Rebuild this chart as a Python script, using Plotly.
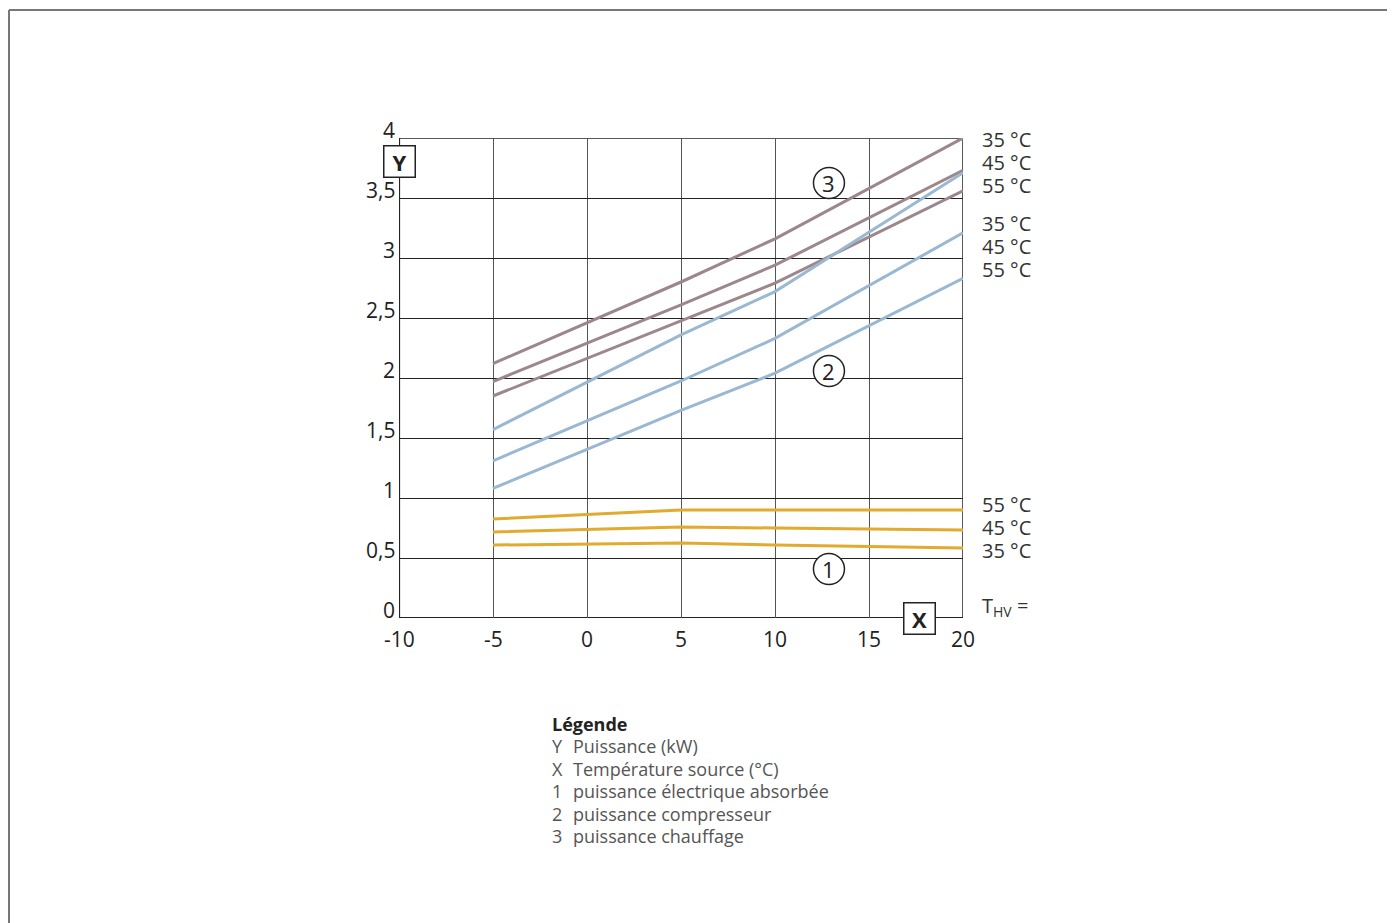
import plotly.graph_objects as go

# ---- data ----
x_src = [-5, 5, 10, 20]
heat_35 = [2.12, 2.80, 3.16, 4.00]
heat_45 = [1.97, 2.61, 2.94, 3.73]
heat_55 = [1.85, 2.48, 2.79, 3.56]
comp_35 = [1.57, 2.36, 2.72, 3.71]
comp_45 = [1.31, 1.975, 2.33, 3.21]
comp_55 = [1.08, 1.73, 2.04, 2.83]
elec_55 = [0.825, 0.90, 0.90, 0.90]
elec_45 = [0.717, 0.758, 0.75, 0.733]
elec_35 = [0.608, 0.625, 0.608, 0.583]

x_ticks = [-10, -5, 0, 5, 10, 15, 20]
x_tick_labels = ["-10", "-5", "0", "5", "10", "15", "20"]
y_ticks = [0, 0.5, 1, 1.5, 2, 2.5, 3, 3.5, 4]
y_tick_labels = ["0", "0,5", "1", "1,5", "2", "2,5", "3", "3,5", "4"]

right_labels = ["35 °C", "45 °C", "55 °C", "35 °C", "45 °C", "55 °C", "55 °C", "45 °C", "35 °C"]
right_label_y = [3.97, 3.78, 3.59, 3.27, 3.08, 2.89, 0.93, 0.74, 0.55]

legend_title = "Légende"
legend_keys = ["Y", "X", "1", "2", "3"]
legend_texts = ["Puissance (kW)", "Température source (°C)", "puissance électrique absorbée",
                "puissance compresseur", "puissance chauffage"]

FONT = "Open Sans"
MAUVE = "#9c878c"
BLUE = "#9ab8d2"
GOLD = "#e2aa2e"

fig = go.Figure()
for ys in [heat_35, heat_45, heat_55]:
    fig.add_trace(go.Scatter(x=x_src, y=ys, mode="lines", line=dict(color=MAUVE, width=3), hoverinfo="skip"))
for ys in [comp_35, comp_45, comp_55]:
    fig.add_trace(go.Scatter(x=x_src, y=ys, mode="lines", line=dict(color=BLUE, width=3), hoverinfo="skip"))
for ys in [elec_55, elec_45, elec_35]:
    fig.add_trace(go.Scatter(x=x_src, y=ys, mode="lines", line=dict(color=GOLD, width=3), hoverinfo="skip"))

ann = []
for v, t in zip(y_ticks, y_tick_labels):
    ann.append(dict(x=-10, y=v, xref="x", yref="y", text=t, showarrow=False, xanchor="right",
                    yanchor="middle", xshift=-2, yshift=8, font=dict(family=FONT, size=21, color="#222")))
for v, t in zip(x_ticks, x_tick_labels):
    ann.append(dict(x=v, y=0, xref="x", yref="y", text=t, showarrow=False, xanchor="center",
                    yanchor="middle", yshift=-21, font=dict(family=FONT, size=21, color="#222")))
for v, t in zip(right_label_y, right_labels):
    ann.append(dict(x=20, y=v, xref="x", yref="y", text=t, showarrow=False, xanchor="left",
                    yanchor="middle", xshift=17, yshift=2, font=dict(family=FONT, size=20, color="#333")))
ann.append(dict(x=20, y=0.08, xref="x", yref="y", text="T<sub>HV</sub> =", showarrow=False, xanchor="left",
                yanchor="middle", xshift=17, yshift=2, font=dict(family=FONT, size=20, color="#333")))

# axis boxes
ann.append(dict(x=-10, y=3.808, xref="x", yref="y", text="<b>Y</b>", showarrow=False, xanchor="center",
                yanchor="middle", width=30, height=30, bgcolor="white", bordercolor="#222", borderwidth=1.5,
                borderpad=0, font=dict(family=FONT, size=22, color="#222")))
ann.append(dict(x=17.71, y=0, xref="x", yref="y", text="<b>X</b>", showarrow=False, xanchor="center",
                yanchor="middle", width=30, height=30, bgcolor="white", bordercolor="#222", borderwidth=1.5,
                borderpad=0, font=dict(family=FONT, size=22, color="#222")))

# circled numbers
shapes = []
circ = [("3", 12.87, 3.625), ("2", 12.87, 2.058), ("1", 12.87, 0.408)]
rx, ry = 15.5 / 18.8, 15.5 / 120
for lab, cx, cy in circ:
    shapes.append(dict(type="circle", xref="x", yref="y", x0=cx - rx, x1=cx + rx, y0=cy - ry, y1=cy + ry,
                       fillcolor="white", line=dict(color="#222", width=1.5), layer="above"))
    ann.append(dict(x=cx, y=cy, xref="x", yref="y", text=lab, showarrow=False, xanchor="center",
                    yanchor="middle", font=dict(family=FONT, size=22, color="#222")))

# helper: screen px -> paper coords (plot area spans screen px 399..963 x 138..618)
def px_x(px):
    return (px - 399) / 564

def px_y(py):
    return (618 - py) / 480

ann.append(dict(x=px_x(550), y=px_y(724), xref="paper", yref="paper", text="<b>" + legend_title + "</b>",
                showarrow=False, xanchor="left", yanchor="middle", font=dict(family=FONT, size=18, color="#222")))
for i, (k, t) in enumerate(zip(legend_keys, legend_texts)):
    yy = 746 + i * 22.6
    ann.append(dict(x=px_x(550), y=px_y(yy), xref="paper", yref="paper", text=k, showarrow=False,
                    xanchor="left", yanchor="middle", font=dict(family=FONT, size=18, color="#555")))
    ann.append(dict(x=px_x(571), y=px_y(yy), xref="paper", yref="paper", text=t, showarrow=False,
                    xanchor="left", yanchor="middle", font=dict(family=FONT, size=18, color="#555")))

# plot frame lines
shapes.append(dict(type="line", xref="x", yref="y", x0=-10, x1=20, y0=4, y1=4, line=dict(color="#222", width=1.5), layer="below"))
shapes.append(dict(type="line", xref="x", yref="y", x0=20, x1=20, y0=0, y1=4, line=dict(color="#222", width=1.5), layer="below"))
shapes.append(dict(type="line", xref="x", yref="y", x0=-10, x1=-10, y0=0, y1=4, line=dict(color="#222", width=2.2), layer="below"))
shapes.append(dict(type="line", xref="x", yref="y", x0=-10, x1=20, y0=0, y1=0, line=dict(color="#222", width=2.2), layer="below"))

# outer page border
shapes.append(dict(type="line", xref="paper", yref="paper", x0=px_x(9), x1=px_x(1400), y0=px_y(10), y1=px_y(10),
                   line=dict(color="#777", width=2)))
shapes.append(dict(type="line", xref="paper", yref="paper", x0=px_x(9), x1=px_x(9), y0=px_y(10), y1=px_y(930),
                   line=dict(color="#777", width=2)))

fig.update_layout(
    width=1395, height=923,
    margin=dict(l=391, r=440, t=130, b=313),
    paper_bgcolor="white", plot_bgcolor="white",
    showlegend=False,
    xaxis=dict(range=[-10, 20], tickvals=[-5, 0, 5, 10, 15], showticklabels=False, showgrid=True,
               gridcolor="#555", gridwidth=1, zeroline=False, showline=False, fixedrange=True),
    yaxis=dict(range=[0, 4], tickvals=[0.5, 1, 1.5, 2, 2.5, 3, 3.5], showticklabels=False, showgrid=True,
               gridcolor="#222", gridwidth=1, zeroline=False, showline=False, fixedrange=True),
    annotations=ann,
    shapes=shapes,
)

fig.write_html("out.html")
